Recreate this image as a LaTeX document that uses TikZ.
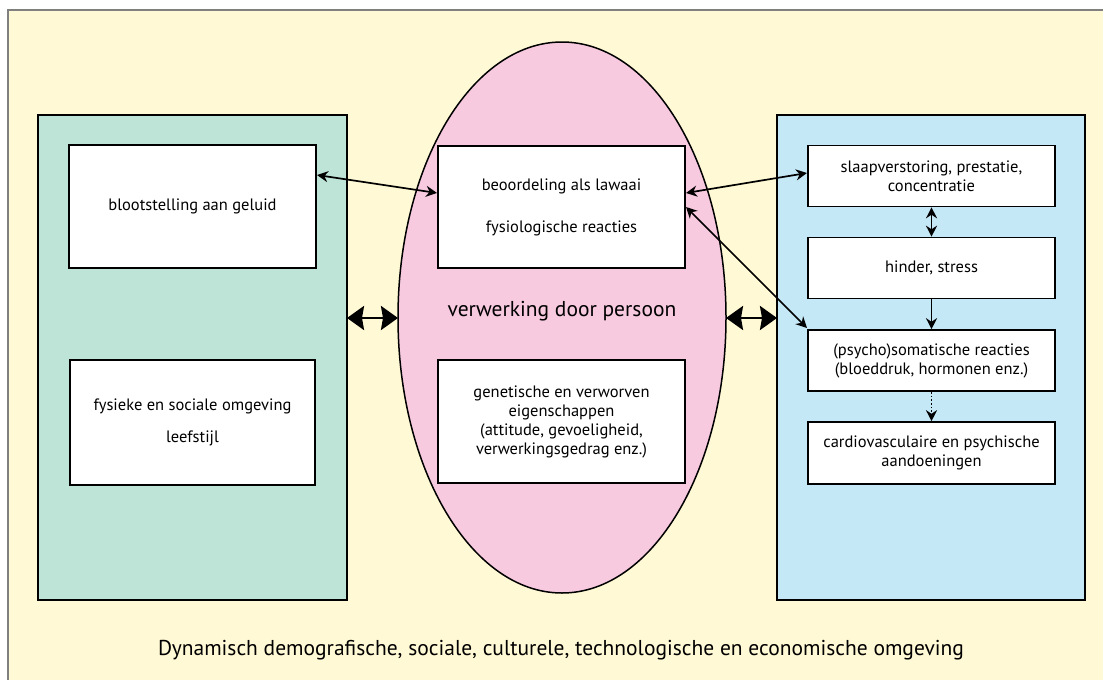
\documentclass[tikz,border=0pt]{standalone}
\usepackage{fontspec}
\setmainfont{PT Sans}
\usetikzlibrary{arrows.meta,shapes.geometric}
\definecolor{bgyellow}{HTML}{FFF9D5}
\definecolor{tealc}{HTML}{BEE3D7}
\definecolor{pinkc}{HTML}{F7CADF}
\definecolor{bluec}{HTML}{C5E8F7}
\definecolor{framegray}{HTML}{808080}
\tikzset{
  panel/.style={draw=black,line width=1.6pt},
  inbox/.style={draw=black,fill=white,line width=1.6pt,align=center,font=\fontsize{16.5}{19}\selectfont,inner sep=0pt},
  thinarr/.style={line width=1.7pt,{Stealth[length=11pt,width=11pt]}-{Stealth[length=11pt,width=11pt]}},
  thinone/.style={line width=1.7pt,-{Stealth[length=11pt,width=11pt]}},
  thickarr/.style={line width=2.6pt,{Stealth[length=17pt,width=24pt,inset=2pt]}-{Stealth[length=17pt,width=24pt,inset=2pt]}},
}
\begin{document}
\begin{tikzpicture}[x=1pt,y=-1pt]
\useasboundingbox (0,0) rectangle (1103,680);
\fill[bgyellow] (0,0) rectangle (1103,680);
\fill[white] (0,0) rectangle (1103,9);
\fill[white] (0,0) rectangle (7,680);
\draw[framegray,line width=2pt] (8,680) -- (8,10) -- (1103,10);
% panels
\draw[panel,fill=tealc] (38,115) rectangle (347,600);
\draw[panel,fill=bluec] (777,115) rectangle (1085,600);
\node[ellipse,draw=black,line width=1.5pt,fill=pinkc,minimum width=328pt,minimum height=551pt,inner sep=0pt] (ell) at (562,317.5) {};
\node[font=\fontsize{21.5}{24}\selectfont] (ver) at (562,311) {verwerking door persoon};
% left boxes
\node[inbox,minimum width=247pt,minimum height=123pt] (lt) at (192.5,206.5) {blootstelling aan geluid};
\node[inbox,minimum width=245pt,minimum height=125pt] (lb) at (192.5,422.5) {fysieke en sociale omgeving\\[13pt]leefstijl};
% center boxes
\node[inbox,minimum width=247pt,minimum height=122pt] (ct) at (561.5,207) {beoordeling als lawaai\\[23pt]fysiologische reacties};
\node[inbox,minimum width=247pt,minimum height=123pt] (cb) at (561.5,421.5) {genetische en verworven\\eigenschappen\\(attitude, gevoeligheid,\\verwerkingsgedrag enz.)};
% right boxes
\node[inbox,minimum width=247pt,minimum height=61pt] (r1) at (931.5,176) {slaapverstoring, prestatie,\\concentratie};
\node[inbox,minimum width=247pt,minimum height=61pt] (r2) at (931.5,268) {hinder, stress};
\node[inbox,minimum width=247pt,minimum height=61pt] (r3) at (931.5,360.5) {(psycho)somatische reacties\\(bloeddruk, hormonen enz.)};
\node[inbox,minimum width=247pt,minimum height=62pt] (r4) at (931.5,453) {cardiovasculaire en psychische\\aandoeningen};
% bottom text
\node[font=\fontsize{21.5}{24}\selectfont] (dyn) at (561,650) {Dynamisch demografische, sociale, culturele, technologische en economische omgeving};
% coordinates for connectors
\coordinate (a1) at (317,175);
\coordinate (a2) at (437,193);
\coordinate (b1) at (686,193);
\coordinate (b2) at (807,173);
\coordinate (c1) at (686,207);
\coordinate (c2) at (807,328);
\coordinate (d1) at (347,318);
\coordinate (d2) at (398,318);
\coordinate (e1) at (726,318);
\coordinate (e2) at (777,318);
\draw[thinarr] (a1) -- (a2);
\draw[thinarr] (b1) -- (b2);
\draw[thinarr] (c1) -- (c2);
\draw[thickarr] (d1) -- (d2);
\draw[thickarr] (e1) -- (e2);
\draw[thinarr] (r1.south) -- (r2.north);
\draw[thinone] (r2.south) -- (r3.north);
\draw[thinone,dotted] (r3.south) -- (r4.north);
\end{tikzpicture}
\end{document}
